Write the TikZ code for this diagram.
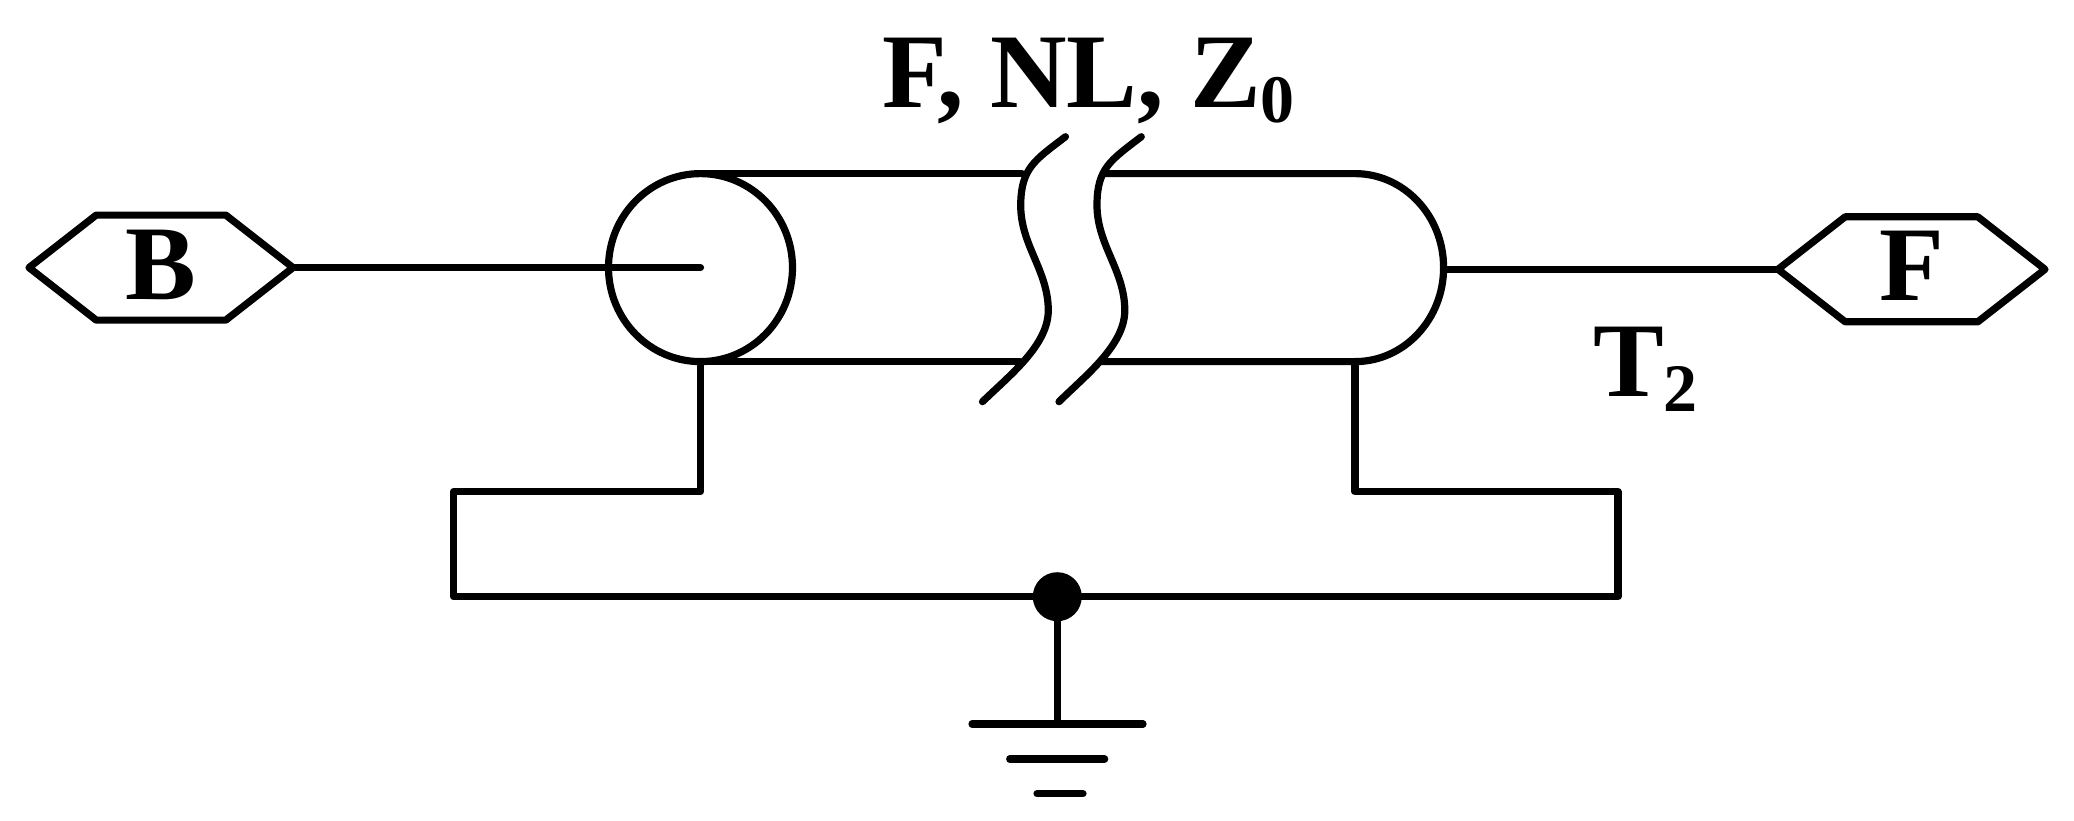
\documentclass[tikz,border=0pt]{standalone}
\usepackage{fontspec}
\setmainfont{Liberation Serif}
\usetikzlibrary{shapes.geometric,shapes.symbols}
\tikzset{
  wire/.style={line width=3.6pt,line cap=round,line join=round,draw=black},
  hexbox/.style={wire,shape=signal,signal to=east and west,signal pointer angle=76,
    minimum height=52.5pt,inner sep=0pt,outer sep=0pt,
    font=\bfseries\fontsize{53}{53}\selectfont,text height=35pt,text depth=3.5pt},
  label/.style={inner sep=0pt,outer sep=0pt,anchor=base west,font=\bfseries\fontsize{53}{53}\selectfont}
}
\newcommand{\lowered}[1]{\raisebox{-7.5pt}{\fontsize{34}{34}\selectfont #1}}
\begin{document}
\begin{tikzpicture}[x=0.5pt,y=-0.5pt]
\useasboundingbox (0,0) rectangle (2074,820);
% ports
\node[hexbox,minimum width=132pt] (portB) at (161,267.6) {B};
\node[hexbox,minimum width=133.5pt] (portF) at (1911.5,269.3) {F};
% cable near end
\node[wire,shape=ellipse,minimum width=92pt,minimum height=94pt,inner sep=0pt,outer sep=0pt] (nearend) at (700.5,267.6) {};
\coordinate (coreend) at (nearend.center);
\draw[wire] (portB.east) -- (coreend);
% cable far end
\coordinate (ntop) at (nearend.north);
\coordinate (nbot) at (nearend.south);
\coordinate (ltop) at (1022,173.6);
\coordinate (lbot) at (1020,361.6);
\coordinate (rtop) at (1105,173.6);
\coordinate (rbot) at (1102,361.6);
\coordinate (ftop) at (1355,173.6);
\coordinate (fbot) at (1355,361.6);
\coordinate (ftip) at (1443.6,269.3);
\draw[wire] (ntop) -- (ltop);
\draw[wire] (nbot) -- (lbot);
\draw[wire] (rbot) -- (fbot) arc[start angle=90,end angle=-90,x radius=88.6,y radius=94] -- (rtop);
\draw[wire] (ftip) -- (portF.west);
% break marks
\draw[wire] (1065.5,136.7) .. controls (1035,160) and (1021,168) .. (1020.7,205) .. controls (1020.5,245) and (1048,270) .. (1048.3,310) .. controls (1048.5,345) and (1010,375) .. (982.5,401.7);
\draw[wire] (1141.3,136.7) .. controls (1111,160) and (1097,168) .. (1097,205) .. controls (1097,245) and (1124.5,270) .. (1124.8,310) .. controls (1125,345) and (1086,375) .. (1059,401.7);
% shield returns
\node[circle,fill=black,inner sep=0pt,outer sep=0pt,minimum size=24.5pt] (junction) at (1057.3,596.7) {};
\coordinate (la) at (700.5,491.7);
\coordinate (lb) at (453.5,491.7);
\coordinate (lc) at (453.5,596.7);
\coordinate (ra) at (1355,491.7);
\coordinate (rb) at (1618,491.7);
\coordinate (rc) at (1618,596.7);
\draw[wire] (nbot) -- (la) -- (lb) -- (lc) -- (junction.center);
\draw[wire] (fbot) -- (ra) -- (rb) -- (rc) -- (junction.center);
% ground
\coordinate (g0) at (1057.3,724);
\coordinate (g1a) at (972,724);
\coordinate (g1b) at (1143,724);
\coordinate (g2a) at (1009.7,759);
\coordinate (g2b) at (1104.7,759);
\coordinate (g3a) at (1037,793.7);
\coordinate (g3b) at (1083,793.7);
\draw[wire] (junction.center) -- (g0);
\draw[wire] (g1a) -- (g1b);
\draw[wire] (g2a) -- (g2b);
\draw[wire] (g3a) -- (g3b);
% labels
\node[label] (params) at (882,107) {F, NL, Z\lowered{0}};
\node[label] (tname) at (1593,396.7) {T\lowered{2}};
\end{tikzpicture}
\end{document}
